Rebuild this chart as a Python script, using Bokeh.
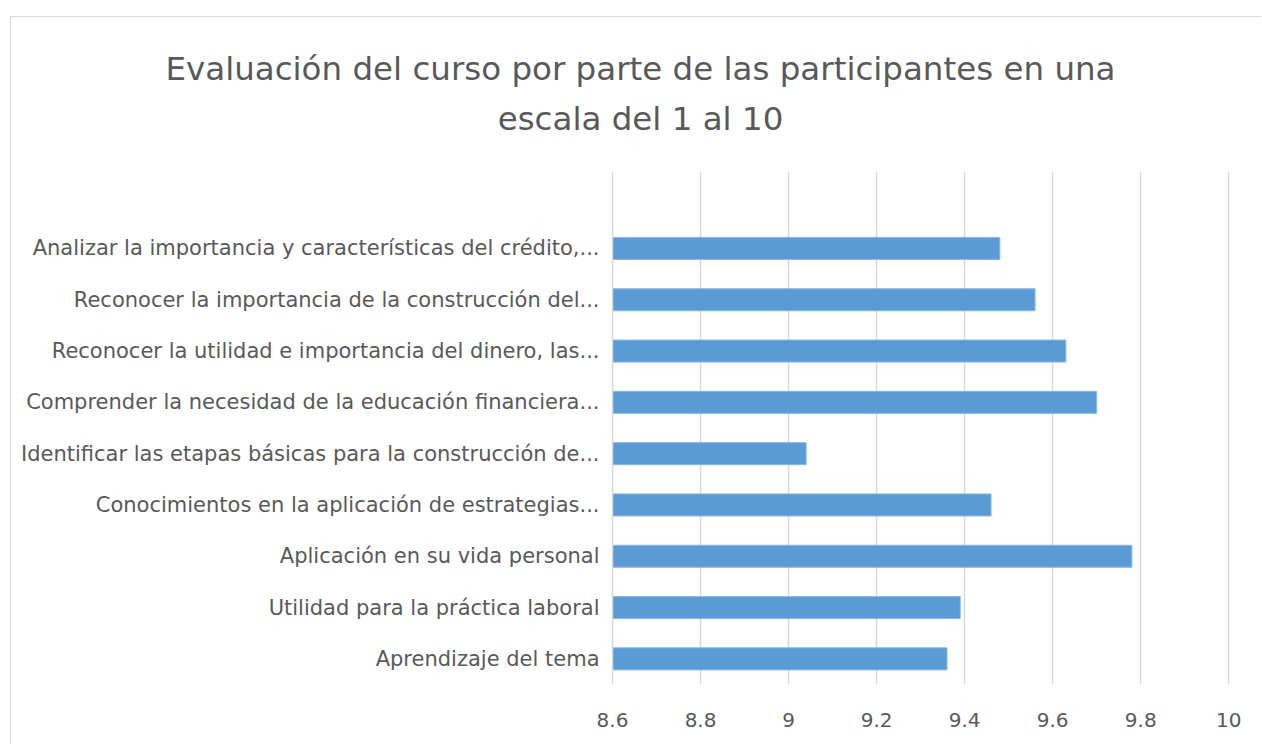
from bokeh.plotting import figure
from bokeh.layouts import column
from bokeh.models import FactorRange, Range1d, FixedTicker
from bokeh.core.properties import value
from bokeh.embed import file_html
from bokeh.resources import INLINE

# Data (top to bottom as shown in the chart)
categories = [
    "Analizar la importancia y características del crédito,...",
    "Reconocer la importancia de la construcción del...",
    "Reconocer la utilidad e importancia del dinero, las...",
    "Comprender la necesidad de la educación financiera...",
    "Identificar las etapas básicas para la construcción de...",
    "Conocimientos en la aplicación de estrategias...",
    "Aplicación en su vida personal",
    "Utilidad para la práctica laboral",
    "Aprendizaje del tema",
]
values = [9.48, 9.56, 9.63, 9.70, 9.04, 9.46, 9.78, 9.39, 9.36]
x_ticks = [8.6, 8.8, 9.0, 9.2, 9.4, 9.6, 9.8, 10.0]
x_tick_labels = ["8.6", "8.8", "9", "9.2", "9.4", "9.6", "9.8", "10"]
title_lines = ["Evaluación del curso por parte de las participantes en una",
               "escala del 1 al 10"]

FONT = "DejaVu Sans"
TEXT_COLOR = "#595959"
GRID_COLOR = "#d9d9d9"

W = 1250
TITLE_H = 154
CHART_H = 573

# ---- title strip (its own canvas so the title can be centred on the whole chart)
tp = figure(width=W, height=TITLE_H, x_range=Range1d(0, W), y_range=Range1d(TITLE_H, 0),
            x_axis_type=None, y_axis_type=None, output_backend="svg",
            toolbar_location=None, min_border=0)
tp.frame_align = False
tp.outline_line_color = None
tp.grid.visible = False
tp.text(x=[W / 2 + 4, W / 2 + 4], y=[51, 101], text=title_lines,
        text_align="center", text_baseline="middle",
        text_font=value(FONT), text_font_size="32.5px", text_color=TEXT_COLOR)

# ---- bar chart
factors = list(reversed(categories)) + [" "]

p = figure(
    width=W, height=CHART_H,
    y_range=FactorRange(factors=factors, range_padding=0),
    x_range=Range1d(8.6, 10.004),
    output_backend="svg", toolbar_location=None,
    min_border_left=601, min_border_right=31,
    min_border_top=0, min_border_bottom=60,
)
p.frame_align = False
p.outline_line_color = None

p.hbar(y=categories, left=8.6, right=values, height=0.43,
       fill_color="#5b9bd5", line_color="#8db8e2", line_width=1)

p.xaxis.ticker = FixedTicker(ticks=x_ticks)
p.xaxis.major_label_overrides = {v: s for v, s in zip(x_ticks, x_tick_labels)}
p.xaxis.axis_line_color = None
p.xaxis.major_tick_line_color = None
p.xaxis.minor_tick_line_color = None
p.xaxis.major_label_text_font = FONT
p.xaxis.major_label_text_font_size = "20px"
p.xaxis.major_label_text_color = TEXT_COLOR
p.xaxis.major_label_standoff = 22

p.yaxis.axis_line_color = GRID_COLOR
p.yaxis.axis_line_width = 1.5
p.yaxis.major_tick_line_color = None
p.yaxis.minor_tick_line_color = None
p.yaxis.major_label_text_font = FONT
p.yaxis.major_label_text_font_size = "21px"
p.yaxis.major_label_text_color = TEXT_COLOR
p.yaxis.major_label_standoff = 7

p.xgrid.grid_line_color = GRID_COLOR
p.xgrid.grid_line_width = 1.5
p.xgrid.ticker = FixedTicker(ticks=x_ticks)
p.ygrid.grid_line_color = None

layout = column(tp, p, spacing=0, styles={
    "margin-left": "10px", "margin-top": "16px",
    "border-left": "1.5px solid #d9d9d9", "border-top": "1.5px solid #d9d9d9",
})

open("out.html", "w").write(file_html(layout, INLINE))
